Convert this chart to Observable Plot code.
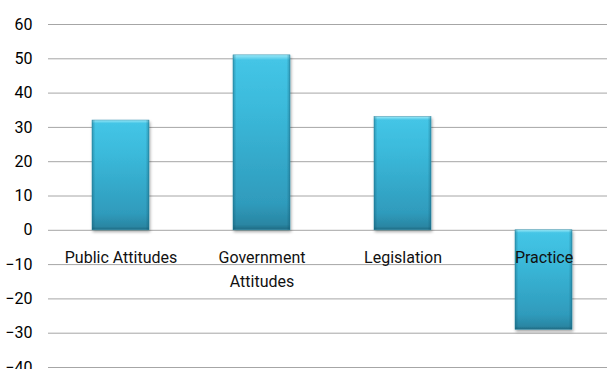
<!DOCTYPE html>
<html>
<head>
<meta charset="utf-8">
<script src="https://cdn.jsdelivr.net/npm/d3@7"></script>
<script src="https://cdn.jsdelivr.net/npm/@observablehq/plot@0.6"></script>
<style>
  html, body { margin: 0; padding: 0; background: #fff; }
  #chart svg { display: block; }
</style>
</head>
<body>
<div id="chart"></div>
<script>
const categories = ["Public Attitudes", "Government Attitudes", "Legislation", "Practice"];
const values = [32, 51, 33, -29];
const labels = ["Public Attitudes", "Government\nAttitudes", "Legislation", "Practice"];
const yTicks = [-40, -30, -20, -10, 0, 10, 20, 30, 40, 50, 60];

const data = categories.map((c, i) => ({category: c, value: values[i], label: labels[i]}));

const font = "Roboto, 'Open Sans', sans-serif";

const chart = Plot.plot({
  width: 607,
  height: 369,
  marginTop: 24,
  marginBottom: 2,
  marginLeft: 48,
  marginRight: 0,
  style: {fontFamily: font, fontSize: "16px", color: "#000", background: "#fff"},
  x: {domain: categories, range: [49, 615], paddingInner: 0.595, paddingOuter: 0.2975, axis: null},
  y: {domain: [-40, 60], ticks: yTicks},
  marks: [
    Plot.ruleY(yTicks, {stroke: "#a6a6a6", strokeWidth: 1}),
    Plot.ruleX([0], {x: () => 48, frameAnchor: "left", stroke: "#a6a6a6"}),
    Plot.axisY({ticks: yTicks, tickSize: 0, tickPadding: 16, fontSize: 16, fill: "#000", label: null}),
    Plot.barY(data, {x: "category", y: "value", fill: "url(#barGrad)", stroke: "#2b8aa8", strokeWidth: 0.5}),
    Plot.barY(data, {x: "category", y: "value", fill: "url(#sideGrad)"}),
    Plot.text(data, {x: "category", y: () => 0, text: "label", dy: 15.5, lineAnchor: "top", lineHeight: 1.5, fontSize: 16, fill: "#111"})
  ]
});

document.getElementById("chart").appendChild(chart);

// gradient + shadow definitions
const svg = d3.select(chart);
const defs = svg.insert("defs", ":first-child");
const g = defs.append("linearGradient").attr("id", "barGrad").attr("x1", 0).attr("y1", 0).attr("x2", 0).attr("y2", 1);
[["0%", "#9be9f8"], ["3%", "#44c5e6"], ["30%", "#3bbadb"], ["85%", "#2f9bbc"], ["97%", "#2a86a3"], ["100%", "#1d6a82"]]
  .forEach(([o, c]) => g.append("stop").attr("offset", o).attr("stop-color", c));
const s = defs.append("linearGradient").attr("id", "sideGrad").attr("x1", 0).attr("y1", 0).attr("x2", 1).attr("y2", 0);
[["0%", "#0a4a60", 0.35], ["6%", "#0a4a60", 0], ["94%", "#0a4a60", 0], ["100%", "#0a4a60", 0.35]]
  .forEach(([o, c, a]) => s.append("stop").attr("offset", o).attr("stop-color", c).attr("stop-opacity", a));
const f = defs.append("filter").attr("id", "barShadow").attr("x", "-20%").attr("y", "-20%").attr("width", "150%").attr("height", "150%");
f.append("feDropShadow").attr("dx", 1).attr("dy", 2).attr("stdDeviation", 1.5).attr("flood-color", "#000").attr("flood-opacity", 0.35);
svg.selectAll("g").filter(function() { return (this.getAttribute("fill") || "").includes("barGrad"); })
  .attr("filter", "url(#barShadow)");
</script>
</body>
</html>
